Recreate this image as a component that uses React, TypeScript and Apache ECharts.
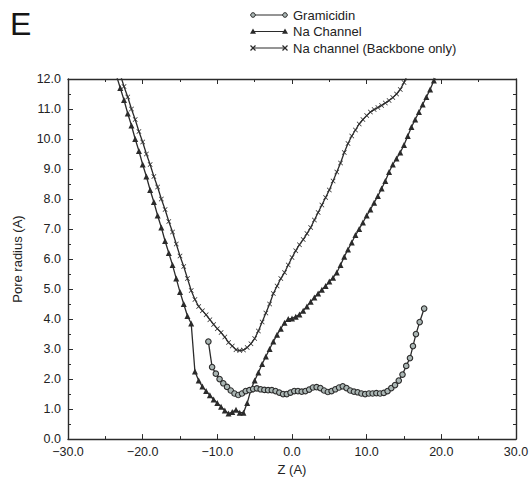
import React, { useEffect, useRef } from "react";
import * as echarts from "echarts";

// Z positions (Å) and pore radii (Å)
const naZ = [-23.5,-23,-22.5,-22,-21.5,-21,-20.5,-20,-19.5,-19,-18.5,-18,-17.5,-17,-16.5,-16,-15.5,-15,-14.5,-14,-13.5,-13,-12.5,-12,-11.5,-11,-10.5,-10,-9.5,-9,-8.5,-8,-7.5,-7,-6.5,-6,-5.5,-5,-4.5,-4,-3.5,-3,-2.5,-2,-1.5,-1,-0.5,0,0.5,1,1.5,2,2.5,3,3.5,4,4.5,5,5.5,6,6.5,7,7.5,8,8.5,9,9.5,10,10.5,11,11.5,12,12.5,13,13.5,14,14.5,15,15.5,16,16.5,17,17.5,18,18.5,19,19.5];
const naR = [12.1,11.7,11.3,10.85,10.45,10.0,9.6,9.15,8.75,8.3,7.9,7.45,7.05,6.6,6.2,5.8,5.35,4.9,4.5,4.1,3.85,2.25,1.95,1.75,1.6,1.46,1.32,1.2,1.08,0.95,0.85,0.9,0.98,0.88,0.88,1.2,1.65,1.95,2.22,2.5,2.75,3.0,3.25,3.48,3.68,3.88,4.0,4.02,4.08,4.15,4.28,4.42,4.58,4.72,4.85,4.98,5.1,5.25,5.38,5.55,5.8,6.08,6.32,6.55,6.8,7.0,7.22,7.45,7.65,7.88,8.1,8.35,8.6,8.9,9.15,9.35,9.55,9.8,10.1,10.4,10.65,10.9,11.15,11.4,11.65,11.95,12.2];

const bbZ = [-23,-22.5,-22,-21.5,-21,-20.5,-20,-19.5,-19,-18.5,-18,-17.5,-17,-16.5,-16,-15.5,-15,-14.5,-14,-13.5,-13,-12.5,-12,-11.5,-11,-10.5,-10,-9.5,-9,-8.5,-8,-7.5,-7,-6.5,-6,-5.5,-5,-4.5,-4,-3.5,-3,-2.5,-2,-1.5,-1,-0.5,0,0.5,1,1.5,2,2.5,3,3.5,4,4.5,5,5.5,6,6.5,7,7.5,8,8.5,9,9.5,10,10.5,11,11.5,12,12.5,13,13.5,14,14.5,15,15.5];
const bbR = [12.15,11.75,11.4,11.0,10.65,10.25,9.9,9.5,9.15,8.75,8.4,8.0,7.65,7.25,6.9,6.5,6.1,5.75,5.35,4.95,4.65,4.42,4.28,4.14,3.98,3.82,3.68,3.55,3.4,3.22,3.1,2.98,2.95,2.97,3.05,3.18,3.35,3.6,3.9,4.2,4.5,4.85,5.1,5.35,5.55,5.8,6.05,6.28,6.48,6.65,6.85,7.05,7.3,7.55,7.8,8.05,8.3,8.6,8.9,9.2,9.55,9.85,10.1,10.3,10.5,10.65,10.78,10.9,10.98,11.05,11.12,11.2,11.28,11.38,11.5,11.65,11.88,12.15];

const grZ = [-11.2,-10.7,-10.2,-9.7,-9.2,-8.7,-8.2,-7.7,-7.2,-6.7,-6.2,-5.7,-5.2,-4.7,-4.2,-3.7,-3.2,-2.7,-2.2,-1.7,-1.2,-0.7,-0.2,0.3,0.8,1.3,1.8,2.3,2.8,3.3,3.8,4.3,4.8,5.3,5.8,6.3,6.8,7.3,7.8,8.3,8.8,9.3,9.8,10.3,10.8,11.3,11.8,12.3,12.8,13.3,13.8,14.3,14.8,15.3,15.8,16.2,16.6,17.1,17.7];
const grR = [3.25,2.4,2.18,2.0,1.86,1.74,1.62,1.52,1.47,1.52,1.6,1.63,1.67,1.69,1.66,1.64,1.63,1.63,1.6,1.55,1.5,1.5,1.55,1.6,1.6,1.58,1.6,1.65,1.72,1.73,1.7,1.62,1.57,1.6,1.66,1.72,1.76,1.7,1.62,1.58,1.56,1.52,1.5,1.52,1.52,1.53,1.52,1.54,1.6,1.7,1.8,1.95,2.15,2.44,2.7,3.1,3.5,3.9,4.35];

const seriesNames = ["Gramicidin", "Na Channel", "Na channel (Backbone only)"];
const xTicks = { min: -30, max: 30, step: 10 };
const yTicks = { min: 0, max: 12, step: 1 };

const FONT = '"Liberation Sans", Arial, Helvetica, sans-serif';
const INK = "#2b2b2b";
const GR_FILL = "#aab6b4";
const CROSS = "path://M1,0 L5,4 L9,0 L10,1 L6,5 L10,9 L9,10 L5,6 L1,10 L0,9 L4,5 L0,1 Z";

const pairs = (z: number[], r: number[]) => z.map((v, i) => [v, r[i]]);

export default function App() {
  const ref = useRef<HTMLDivElement>(null);
  useEffect(() => {
    if (!ref.current) return;
    const chart = echarts.init(ref.current, undefined, { renderer: "svg" });
    const lineStyle = { color: INK, width: 1.4 };
    const baseX = {
      type: "value",
      min: xTicks.min,
      max: xTicks.max,
      interval: xTicks.step,
      axisLine: { show: true, onZero: false, lineStyle },
      axisTick: { show: true, inside: true, length: 5, lineStyle: { color: INK, width: 1 } },
      minorTick: { show: true, splitNumber: 2, length: 3, lineStyle: { color: INK, width: 1 } },
      splitLine: { show: false },
      minorSplitLine: { show: false },
    };
    const baseY = {
      type: "value",
      min: yTicks.min,
      max: yTicks.max,
      interval: yTicks.step,
      axisLine: { show: true, onZero: false, lineStyle },
      axisTick: { show: true, inside: true, length: 5, lineStyle: { color: INK, width: 1 } },
      minorTick: { show: true, splitNumber: 2, length: 3, lineStyle: { color: INK, width: 1 } },
      splitLine: { show: false },
      minorSplitLine: { show: false },
    };
    const legendGraphics: any[] = [];
    const lx1 = 253, lx2 = 285;
    seriesNames.forEach((name, i) => {
      const y = 15 + i * 16.5;
      legendGraphics.push({ type: "line", shape: { x1: lx1, y1: y, x2: lx2, y2: y }, style: { stroke: INK, lineWidth: 1 } });
      [lx1, lx2].forEach((x) => {
        if (i === 0) {
          legendGraphics.push({ type: "circle", shape: { cx: x, cy: y, r: 2.3 }, style: { fill: GR_FILL, stroke: INK, lineWidth: 1 } });
        } else if (i === 1) {
          legendGraphics.push({ type: "polygon", shape: { points: [[x, y - 3], [x - 3, y + 2.3], [x + 3, y + 2.3]] }, style: { fill: INK } });
        } else {
          legendGraphics.push({ type: "line", shape: { x1: x - 2.5, y1: y - 2.5, x2: x + 2.5, y2: y + 2.5 }, style: { stroke: INK, lineWidth: 1.2 } });
          legendGraphics.push({ type: "line", shape: { x1: x - 2.5, y1: y + 2.5, x2: x + 2.5, y2: y - 2.5 }, style: { stroke: INK, lineWidth: 1.2 } });
        }
      });
      legendGraphics.push({
        type: "text",
        x: 293,
        y,
        style: { text: name, font: `13px ${FONT}`, fill: "#222", verticalAlign: "middle", align: "left" },
      });
    });
    legendGraphics.push({
      type: "text",
      x: 10,
      y: 8,
      style: { text: "E", font: `32px ${FONT}`, fill: "#151515", verticalAlign: "top", align: "left" },
    });

    chart.setOption({
      animation: false,
      backgroundColor: "#fff",
      grid: { left: 68, right: 16, top: 79, bottom: 33, containLabel: false },
      xAxis: [
        {
          ...baseX,
          position: "bottom",
          name: "Z (A)",
          nameLocation: "middle",
          nameGap: 20,
          nameTextStyle: { fontFamily: FONT, fontSize: 13, color: "#222" },
          axisLabel: {
            margin: 6,
            fontFamily: FONT,
            fontSize: 12.5,
            color: "#222",
            formatter: (v: number) => (v < 0 ? "\u2212" + Math.abs(v).toFixed(1) : v.toFixed(1)),
          },
        },
        { ...baseX, position: "top", axisLabel: { show: false } },
      ],
      yAxis: [
        {
          ...baseY,
          position: "left",
          name: "Pore radius (A)",
          nameLocation: "middle",
          nameGap: 44,
          nameTextStyle: { fontFamily: FONT, fontSize: 13, color: "#222" },
          axisLabel: { margin: 7, fontFamily: FONT, fontSize: 12.5, color: "#222", formatter: (v: number) => v.toFixed(1) },
        },
        { ...baseY, position: "right", axisLabel: { show: false } },
      ],
      graphic: legendGraphics,
      series: [
        {
          name: seriesNames[1],
          type: "line",
          data: pairs(naZ, naR),
          symbol: "triangle",
          symbolSize: 6,
          clip: true,
          lineStyle: { color: INK, width: 1.3 },
          itemStyle: { color: INK },
        },
        {
          name: seriesNames[2],
          type: "line",
          data: pairs(bbZ, bbR),
          symbol: CROSS,
          symbolSize: 5,
          clip: true,
          lineStyle: { color: INK, width: 1.3 },
          itemStyle: { color: INK },
        },
        {
          name: seriesNames[0],
          type: "line",
          data: pairs(grZ, grR),
          symbol: "circle",
          symbolSize: 5.5,
          showAllSymbol: true,
          clip: true,
          lineStyle: { color: INK, width: 1.3 },
          itemStyle: { color: GR_FILL, borderColor: INK, borderWidth: 1.1 },
        },
      ],
    });
    return () => chart.dispose();
  }, []);
  return <div ref={ref} style={{ position: "fixed", left: 0, top: 0, width: 532, height: 481 }} />;
}
